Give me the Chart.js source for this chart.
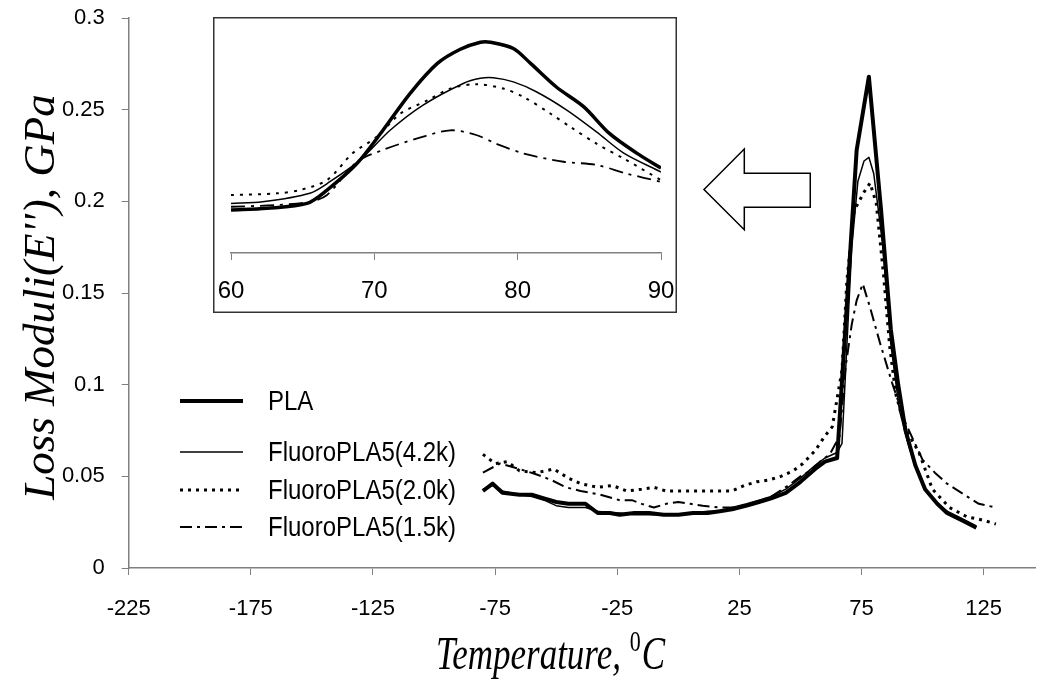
<!DOCTYPE html>
<html><head><meta charset="utf-8">
<script src="https://cdn.jsdelivr.net/npm/chart.js@4.4.0/dist/chart.umd.min.js"></script>
<style>
html,body{margin:0;padding:0;background:#fff;}
#wrap{position:relative;width:1037px;height:681px;overflow:hidden;}
#main{position:absolute;left:0;top:0;}
#inset{position:absolute;left:213px;top:17px;}
</style></head><body>
<div id="wrap"><canvas id="main" width="1037" height="681"></canvas><canvas id="inset" width="464" height="296"></canvas></div>
<script>
// ---------- main chart data ----------
const xTicks = [-225,-175,-125,-75,-25,25,75,125];
const yTicks = [0,0.05,0.1,0.15,0.2,0.25,0.3];
const yTickLabels = ['0','0.05','0.1','0.15','0.2','0.25','0.3'];
const seriesNames = ['PLA','FluoroPLA5(4.2k)','FluoroPLA5(2.0k)','FluoroPLA5(1.5k)'];

const plaT = [-80,-76,-72,-65,-60,-55,-50,-45,-38,-33,-28,-24,-18,-12,-6,0,6,12,17,22,28,33,38,44,50,56,60,65,73,78,83,87,90,93,97,101,106,110,116,122];
const plaE = [0.042,0.046,0.041,0.040,0.040,0.038,0.036,0.035,0.035,0.030,0.030,0.029,0.030,0.030,0.029,0.029,0.030,0.030,0.031,0.032,0.034,0.036,0.038,0.041,0.047,0.054,0.058,0.060,0.228,0.268,0.195,0.130,0.100,0.075,0.056,0.043,0.035,0.030,0.026,0.022];

const f42T = [-80,-76,-72,-65,-60,-55,-50,-45,-38,-33,-28,-24,-18,-12,-6,0,6,12,17,22,28,33,38,44,50,56,60,65,67,71,73.5,76,78,80,83.5,87,90.5,94,97,101,106,110,116,122];
const f42E = [0.043,0.045,0.042,0.040,0.039,0.037,0.034,0.033,0.033,0.031,0.030,0.030,0.029,0.029,0.029,0.029,0.030,0.031,0.031,0.033,0.035,0.037,0.039,0.043,0.049,0.056,0.060,0.063,0.068,0.175,0.211,0.222,0.224,0.215,0.178,0.122,0.086,0.068,0.055,0.043,0.035,0.031,0.027,0.023];

const f20T = [-80,-75,-70,-65,-58,-51,-45,-40,-33,-27,-21,-15,-10,-5,2,10,17,22,27,32,37,42,47,51,56,60,63,67,69,72,76,78.5,81,84,86.5,89,93,98.5,104,111,118,125,130];
const f20E = [0.062,0.057,0.058,0.053,0.052,0.054,0.049,0.046,0.044,0.045,0.042,0.043,0.044,0.042,0.042,0.042,0.042,0.042,0.045,0.047,0.048,0.050,0.053,0.057,0.064,0.072,0.077,0.108,0.157,0.195,0.205,0.210,0.199,0.160,0.121,0.095,0.076,0.063,0.043,0.033,0.028,0.026,0.024];

const f15T = [-80,-73,-65,-58,-52,-46,-40,-32,-24,-19,-15,-10,-5,0,5,10,17,23,30,38,45,50,54,58,62,66,68.5,71,73,75.5,78.5,82.5,87.5,93,100,105,110,117,123,130];
const f15E = [0.052,0.057,0.054,0.051,0.048,0.044,0.042,0.040,0.037,0.037,0.035,0.033,0.035,0.036,0.035,0.034,0.033,0.033,0.035,0.039,0.045,0.050,0.053,0.058,0.062,0.072,0.110,0.133,0.146,0.155,0.142,0.123,0.101,0.079,0.059,0.052,0.046,0.040,0.035,0.033];

// ---------- inset data (60-90 °C) ----------
const insetXTicks = [60,70,80,90];
const iPlaT = [60,62.5,65.3,66.7,68.8,70.6,72.5,74.4,76,77.4,78.1,79.7,80.9,82.7,84.6,86.4,88.3,90];
const iPlaE = [0.0546,0.0568,0.063,0.080,0.114,0.156,0.203,0.241,0.259,0.268,0.268,0.260,0.241,0.211,0.186,0.152,0.127,0.108];
const i42T = [60,62.2,65.5,66.9,69,71.1,73.4,76.2,77.4,78.3,79.7,81.3,83.4,85.5,87.4,90];
const i42E = [0.063,0.065,0.076,0.0906,0.118,0.156,0.188,0.2155,0.222,0.2227,0.2175,0.205,0.182,0.154,0.127,0.103];
const i20T = [60,63.2,64.8,66.7,68.5,70.2,71.8,73.7,75.3,77.1,79,80.4,82.3,83.7,85.5,87.4,90];
const i20E = [0.0737,0.0758,0.080,0.0927,0.127,0.148,0.177,0.194,0.209,0.2146,0.209,0.1985,0.177,0.160,0.139,0.120,0.0927];
const i15T = [60,63.2,65.5,66.7,68.8,70.6,73,75.3,77.1,78.5,80.4,83.2,85.5,87.6,90];
const i15E = [0.0588,0.061,0.065,0.0737,0.116,0.131,0.1457,0.156,0.150,0.139,0.1266,0.116,0.112,0.101,0.0905];

const pts = (T, E) => T.map((t, i) => ({x: t, y: E[i]}));

const styles = [
  {borderWidth: 4, borderDash: []},
  {borderWidth: 1.5, borderDash: []},
  {borderWidth: 3, borderDash: [3, 5]},
  {borderWidth: 2, borderDash: [12, 5, 3, 5]}
];
const insetStyles = [
  {borderWidth: 3.5, borderDash: []},
  {borderWidth: 1.5, borderDash: []},
  {borderWidth: 2, borderDash: [3, 6]},
  {borderWidth: 1.8, borderDash: [14, 6, 3, 6]}
];

function makeDs(name, data, st, tension) {
  return {label: name, data: data, borderColor: '#000', backgroundColor: '#000',
    borderWidth: st.borderWidth, borderDash: st.borderDash, pointRadius: 0,
    tension: tension, fill: false, borderCapStyle: 'butt', borderJoinStyle: 'round'};
}

const SANS = '"Liberation Sans", Arial, sans-serif';
const SERIF = '"Liberation Serif", "Times New Roman", serif';

const decor = {
  id: 'decor',
  afterDraw(chart) {
    const ctx = chart.ctx;
    const xs = chart.scales.x, ys = chart.scales.y;
    ctx.save();
    // legend
    const rowY = [401, 452, 490, 527];
    chart.data.datasets.forEach((ds, i) => {
      const y = rowY[i];
      ctx.beginPath();
      ctx.setLineDash(ds.borderDash || []);
      ctx.lineWidth = ds.borderWidth;
      ctx.strokeStyle = '#000';
      ctx.moveTo(180, y); ctx.lineTo(243, y); ctx.stroke();
      ctx.setLineDash([]);
      ctx.save();
      ctx.translate(268, y + 1);
      ctx.scale(1, 1.15);
      ctx.fillStyle = '#000';
      ctx.font = '24px ' + SANS;
      ctx.textBaseline = 'middle';
      ctx.textAlign = 'left';
      ctx.fillText(ds.label, 0, 0);
      ctx.restore();
    });
    // arrow (placed in data units)
    const X = v => xs.getPixelForValue(v), Y = v => ys.getPixelForValue(v);
    ctx.beginPath();
    ctx.moveTo(X(10.5), Y(0.2065));
    ctx.lineTo(X(27), Y(0.2285));
    ctx.lineTo(X(27), Y(0.2153));
    ctx.lineTo(X(54), Y(0.2153));
    ctx.lineTo(X(54), Y(0.1968));
    ctx.lineTo(X(27), Y(0.1968));
    ctx.lineTo(X(27), Y(0.1845));
    ctx.closePath();
    ctx.lineWidth = 1.5; ctx.strokeStyle = '#000'; ctx.stroke();
    // y title
    ctx.save();
    ctx.translate(54, 297);
    ctx.rotate(-Math.PI / 2);
    ctx.font = 'italic 45px ' + SERIF;
    ctx.fillStyle = '#000';
    ctx.textAlign = 'center'; ctx.textBaseline = 'alphabetic';
    ctx.fillText("Loss Moduli(E''), GPa", 0, 0);
    ctx.restore();
    // x title with superscript
    const p1 = 'Temperature, ', sup = '0', p2 = 'C';
    ctx.font = 'italic 35px ' + SERIF;
    const w1 = ctx.measureText(p1).width, w3 = ctx.measureText(p2).width;
    ctx.font = '22px ' + SERIF;
    const w2 = ctx.measureText(sup).width;
    const x0 = 550 - (w1 + w2 + w3) / 2;
    ctx.save();
    ctx.translate(x0, 669);
    ctx.scale(1, 1.3);
    ctx.fillStyle = '#000';
    ctx.textAlign = 'left'; ctx.textBaseline = 'alphabetic';
    ctx.font = 'italic 35px ' + SERIF; ctx.fillText(p1, 0, 0);
    ctx.font = '22px ' + SERIF; ctx.fillText(sup, w1, -14);
    ctx.font = 'italic 35px ' + SERIF; ctx.fillText(p2, w1 + w2 + 1, 0);
    ctx.restore();
    ctx.restore();
  }
};

new Chart(document.getElementById('main'), {
  type: 'line',
  data: {datasets: [
    makeDs(seriesNames[0], pts(plaT, plaE), styles[0], 0),
    makeDs(seriesNames[1], pts(f42T, f42E), styles[1], 0),
    makeDs(seriesNames[2], pts(f20T, f20E), styles[2], 0),
    makeDs(seriesNames[3], pts(f15T, f15E), styles[3], 0)
  ]},
  options: {
    responsive: false, animation: false,
    layout: {padding: {top: 18, right: 2, left: 0, bottom: 0}},
    plugins: {legend: {display: false}, tooltip: {enabled: false}},
    scales: {
      x: {type: 'linear', min: -225, max: 146,
        afterBuildTicks: s => { s.ticks = xTicks.map(v => ({value: v})); },
        afterFit: s => { s.height = 113; s.paddingLeft = 0; s.paddingRight = 0; },
        grid: {display: true, drawOnChartArea: false, drawTicks: true, tickLength: 7, color: '#808080', lineWidth: 1},
        border: {display: true, color: '#808080', width: 1.5},
        ticks: {font: {family: SANS, size: 22}, color: '#000', padding: 21, maxRotation: 0, autoSkip: false,
          callback: v => String(v)}
      },
      y: {type: 'linear', min: 0, max: 0.3,
        afterBuildTicks: s => { s.ticks = yTicks.map(v => ({value: v})); },
        afterFit: s => { s.width = 128.7; s.paddingTop = 0; s.paddingBottom = 0; },
        grid: {display: true, drawOnChartArea: false, drawTicks: true, tickLength: 7, color: '#808080', lineWidth: 1},
        border: {display: true, color: '#808080', width: 1.5},
        ticks: {font: {family: SANS, size: 22}, color: '#000', padding: 17, autoSkip: false,
          callback: (v, i) => yTickLabels[i]}
      }
    }
  },
  plugins: [decor]
});

const box = {
  id: 'box',
  afterDraw(chart) {
    const ctx = chart.ctx;
    ctx.save();
    ctx.lineWidth = 1.5; ctx.strokeStyle = '#333';
    ctx.strokeRect(0.75, 0.75, chart.width - 1.5, chart.height - 1.5);
    ctx.restore();
  }
};

new Chart(document.getElementById('inset'), {
  type: 'line',
  data: {datasets: [
    makeDs(seriesNames[0], pts(iPlaT, iPlaE), insetStyles[0], 0.3),
    makeDs(seriesNames[1], pts(i42T, i42E), insetStyles[1], 0.3),
    makeDs(seriesNames[2], pts(i20T, i20E), insetStyles[2], 0.3),
    makeDs(seriesNames[3], pts(i15T, i15E), insetStyles[3], 0.3)
  ]},
  options: {
    responsive: false, animation: false,
    layout: {padding: {top: 0, right: 16, left: 18, bottom: 0}},
    plugins: {legend: {display: false}, tooltip: {enabled: false}},
    scales: {
      x: {type: 'linear', min: 60, max: 90,
        afterBuildTicks: s => { s.ticks = insetXTicks.map(v => ({value: v})); },
        afterFit: s => { s.height = 60; s.paddingLeft = 0; s.paddingRight = 0; },
        grid: {display: true, drawOnChartArea: false, drawTicks: true, tickLength: 7, color: '#808080', lineWidth: 1},
        border: {display: true, color: '#808080', width: 1.5},
        ticks: {font: {family: SANS, size: 24}, color: '#000', padding: 17, maxRotation: 0, autoSkip: false,
          callback: v => String(v)}
      },
      y: {type: 'linear', min: 0, max: 0.3, display: false}
    }
  },
  plugins: [box]
});
</script>
</body></html>
